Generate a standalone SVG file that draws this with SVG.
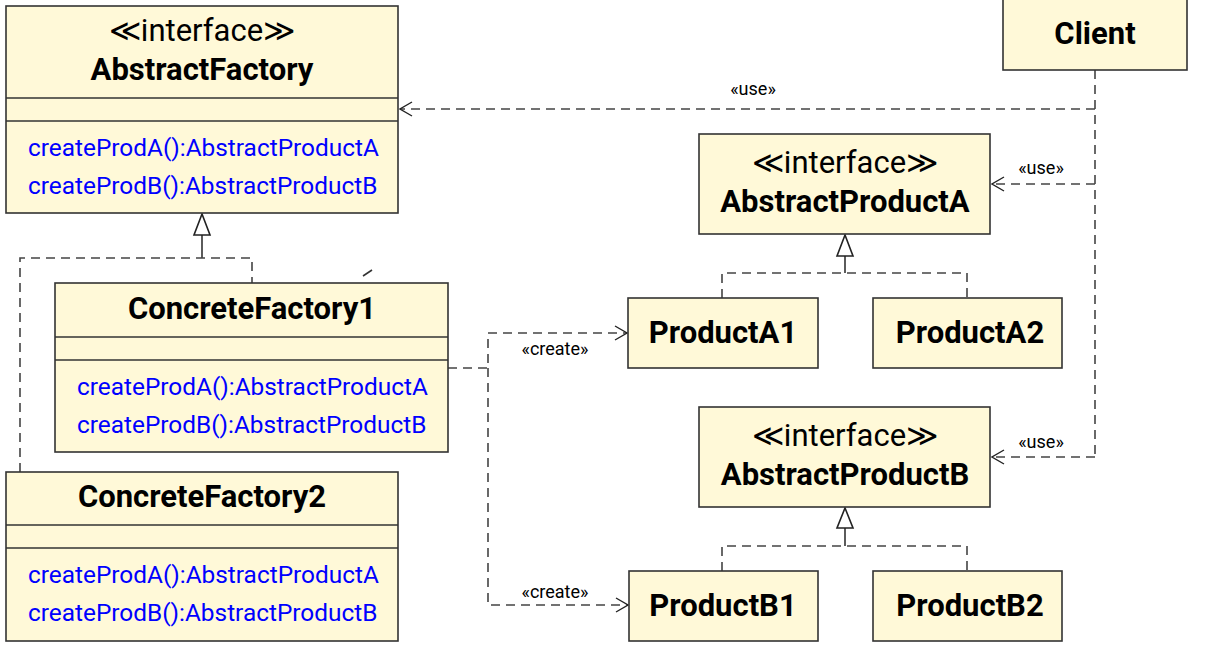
<svg xmlns="http://www.w3.org/2000/svg" width="1210" height="645" viewBox="0 0 1210 645">
<defs>
<style>
.box{fill:#FFF9D8;stroke:#333;stroke-width:1.6}
.div{stroke:#333;stroke-width:1.6}
.st{font-family:Roboto,"Liberation Sans",sans-serif;font-size:31px;fill:#000;text-anchor:middle}
.nm{font-family:Roboto,"Liberation Sans",sans-serif;font-size:31px;font-weight:bold;fill:#000;text-anchor:middle}
.op{font-family:Roboto,"Liberation Sans",sans-serif;font-size:24.4px;fill:#0000FF}
.lb{font-family:Roboto,"Liberation Sans",sans-serif;font-size:18px;fill:#000;text-anchor:middle}
.dash{fill:none;stroke:#444;stroke-width:1.6;stroke-dasharray:9,6}
.solid{fill:none;stroke:#333;stroke-width:1.6}
.tri{fill:#fff;stroke:#222;stroke-width:1.6}
</style>
<marker id="open" viewBox="0 0 14 16" refX="13" refY="8" markerWidth="14" markerHeight="16" markerUnits="userSpaceOnUse" orient="auto">
<path d="M1,1 L13,8 L1,15" fill="none" stroke="#222" stroke-width="1.4"/>
</marker>
</defs>
<rect width="1210" height="645" fill="#fff"/>

<g id="connectors">
<!-- Client uses -->
<path class="dash" d="M1095,70 V457"/>
<path class="dash" d="M1095,109 H400" marker-end="url(#open)"/>
<path class="dash" d="M1095,184 H992" marker-end="url(#open)"/>
<path class="dash" d="M1095,457 H992" marker-end="url(#open)"/>
<text class="lb" x="753" y="95">«use»</text>
<text class="lb" x="1041" y="174">«use»</text>
<text class="lb" x="1041" y="448">«use»</text>
<!-- factory realization -->
<path class="solid" d="M202,235 V258"/>
<path class="dash" d="M20,472 V258 H252 V283"/>
<polygon class="tri" points="202,214 194,235 210,235"/>
<line class="solid" x1="363" y1="276" x2="372" y2="270"/>
<!-- create -->
<path class="dash" d="M448,368 H488 V333 H627" marker-end="url(#open)"/>
<path class="dash" d="M488,368 V605 H628" marker-end="url(#open)"/>
<text class="lb" x="555" y="355">«create»</text>
<text class="lb" x="555" y="598">«create»</text>
<!-- product A realization -->
<path class="solid" d="M845,256 V273"/>
<path class="dash" d="M722,298 V273 H967 V298"/>
<polygon class="tri" points="845,235 837,256 853,256"/>
<!-- product B realization -->
<path class="solid" d="M845,528 V546"/>
<path class="dash" d="M722,571 V546 H967 V571"/>
<polygon class="tri" points="845,508 837,528 853,528"/>
</g>

<g id="AbstractFactory">
<rect class="box" x="6" y="6" width="392" height="207"/>
<line class="div" x1="6" y1="98" x2="398" y2="98"/>
<line class="div" x1="6" y1="121" x2="398" y2="121"/>
<text class="st" x="202" y="41">≪interface≫</text>
<text class="nm" x="202" y="80">AbstractFactory</text>
<text class="op" x="28" y="156">createProdA():AbstractProductA</text>
<text class="op" x="28" y="194">createProdB():AbstractProductB</text>
</g>

<g id="ConcreteFactory1">
<rect class="box" x="55" y="283" width="393" height="169"/>
<line class="div" x1="55" y1="337" x2="448" y2="337"/>
<line class="div" x1="55" y1="360" x2="448" y2="360"/>
<text class="nm" x="252" y="319">ConcreteFactory1</text>
<text class="op" x="77" y="395">createProdA():AbstractProductA</text>
<text class="op" x="77" y="433">createProdB():AbstractProductB</text>
</g>

<g id="ConcreteFactory2">
<rect class="box" x="6" y="472" width="392" height="169"/>
<line class="div" x1="6" y1="525" x2="398" y2="525"/>
<line class="div" x1="6" y1="548" x2="398" y2="548"/>
<text class="nm" x="202" y="507">ConcreteFactory2</text>
<text class="op" x="28" y="583">createProdA():AbstractProductA</text>
<text class="op" x="28" y="621">createProdB():AbstractProductB</text>
</g>

<g id="Client">
<rect class="box" x="1003" y="-1" width="184" height="71"/>
<text class="nm" x="1095" y="44">Client</text>
</g>

<g id="AbstractProductA">
<rect class="box" x="699" y="134" width="291" height="100"/>
<text class="st" x="845" y="173">≪interface≫</text>
<text class="nm" x="845" y="212">AbstractProductA</text>
</g>

<g id="ProductA1">
<rect class="box" x="628" y="298" width="190" height="70"/>
<text class="nm" x="723" y="343">ProductA1</text>
</g>

<g id="ProductA2">
<rect class="box" x="873" y="298" width="189" height="70"/>
<text class="nm" x="970" y="343">ProductA2</text>
</g>

<g id="AbstractProductB">
<rect class="box" x="699" y="407" width="291" height="100"/>
<text class="st" x="845" y="446">≪interface≫</text>
<text class="nm" x="845" y="485">AbstractProductB</text>
</g>

<g id="ProductB1">
<rect class="box" x="629" y="571" width="189" height="70"/>
<text class="nm" x="723" y="616">ProductB1</text>
</g>

<g id="ProductB2">
<rect class="box" x="873" y="571" width="189" height="70"/>
<text class="nm" x="970" y="616">ProductB2</text>
</g>
</svg>
